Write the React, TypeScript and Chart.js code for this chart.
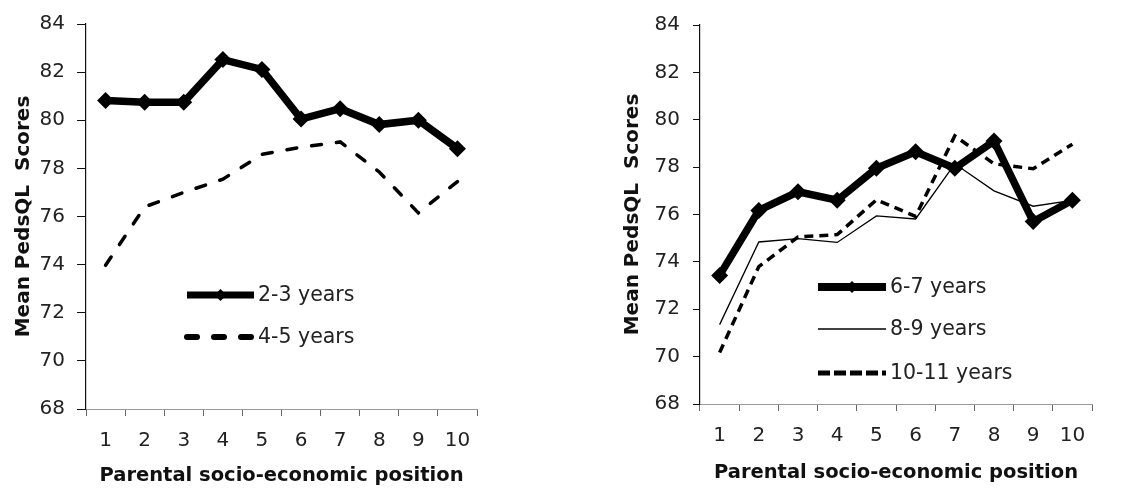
import React, { useEffect, useRef } from 'react';
import { Chart, registerables } from 'chart.js';

Chart.register(...registerables);

// ---------- data ----------
const positions = ['1', '2', '3', '4', '5', '6', '7', '8', '9', '10'];
const yMin = 68;
const yMax = 84;
const yStep = 2;

const years2to3 = [80.82, 80.75, 80.75, 82.52, 82.11, 80.05, 80.48, 79.82, 80.0, 78.82];
const years4to5 = [73.97, 76.4, 77.0, 77.55, 78.58, 78.88, 79.1, 77.85, 76.15, 77.45];

const years6to7 = [73.43, 76.17, 76.96, 76.6, 77.95, 78.65, 77.95, 79.1, 75.7, 76.6];
const years8to9 = [71.35, 74.84, 74.98, 74.82, 75.94, 75.81, 78.14, 77.0, 76.35, 76.6];
const years10to11 = [70.17, 73.8, 75.05, 75.15, 76.62, 75.92, 79.32, 78.14, 77.93, 78.97];

const xTitle = 'Parental socio-economic position';
const yTitle = 'Mean PedsQL  Scores';

// ---------- styling ----------
const FONT = '"DejaVu Sans", "Liberation Sans", Arial, sans-serif';
const TEXT = '#222';
const TICK_SIZE = 20;
const LEGEND_SIZE = 20.5;
const TITLE_SIZE = 19.5;

const inlineLegend = {
  id: 'inlineLegend',
  afterDatasetsDraw(chart: any, _args: any, opts: any) {
    const ctx = chart.ctx;
    chart.data.datasets.forEach((ds: any, i: number) => {
      const item = opts.items[i];
      const y = item.y;
      ctx.save();
      ctx.strokeStyle = ds.borderColor;
      ctx.lineWidth = item.width;
      ctx.lineCap = item.cap || 'butt';
      ctx.setLineDash(item.dash || []);
      ctx.beginPath();
      ctx.moveTo(opts.x0, y);
      ctx.lineTo(opts.x1, y);
      ctx.stroke();
      if (item.marker) {
        const cx = (opts.x0 + opts.x1) / 2;
        const r = item.marker;
        ctx.setLineDash([]);
        ctx.fillStyle = ds.borderColor;
        ctx.beginPath();
        ctx.moveTo(cx, y - r);
        ctx.lineTo(cx + r, y);
        ctx.lineTo(cx, y + r);
        ctx.lineTo(cx - r, y);
        ctx.closePath();
        ctx.fill();
      }
      ctx.fillStyle = TEXT;
      ctx.font = `${LEGEND_SIZE}px ${FONT}`;
      ctx.textAlign = 'left';
      ctx.textBaseline = 'middle';
      ctx.fillText(ds.label, opts.x1 + 4, y + 1);
      ctx.restore();
    });
  },
};

function makeOptions(cfg: {
  padTop: number;
  padRight: number;
  padLeft: number;
  yWidth: number;
  xHeight: number;
  yTickLen: number;
  yTickPad: number;
  yTitlePad: number;
  xTitlePad: number;
  legend: any;
}) {
  return {
    responsive: false,
    animation: false as const,
    devicePixelRatio: 1,
    layout: { padding: { top: cfg.padTop, right: cfg.padRight, left: cfg.padLeft, bottom: 0 } },
    plugins: {
      legend: { display: false },
      tooltip: { enabled: false },
      inlineLegend: cfg.legend,
    },
    scales: {
      x: {
        type: 'category' as const,
        offset: true,
        afterFit: (s: any) => {
          s.height = cfg.xHeight;
        },
        border: { display: true, color: '#9a9a9a', width: 1 },
        grid: {
          display: true,
          drawOnChartArea: false,
          drawTicks: true,
          offset: true,
          tickLength: 7,
          tickColor: '#666',
        },
        ticks: {
          color: TEXT,
          font: { family: FONT, size: TICK_SIZE },
          padding: 12.5,
          maxRotation: 0,
          autoSkip: false,
        },
        title: {
          display: true,
          text: xTitle,
          color: '#111',
          font: { family: FONT, size: TITLE_SIZE, weight: 'bold' as const },
          padding: { top: 0, bottom: cfg.xTitlePad },
        },
      },
      y: {
        min: yMin,
        max: yMax,
        afterFit: (s: any) => {
          s.width = cfg.yWidth;
        },
        border: { display: true, color: '#111', width: 1.2 },
        grid: {
          display: true,
          drawOnChartArea: false,
          drawTicks: true,
          tickLength: cfg.yTickLen,
          tickColor: '#111',
        },
        ticks: {
          stepSize: yStep,
          color: TEXT,
          font: { family: FONT, size: TICK_SIZE },
          padding: cfg.yTickPad,
        },
        title: {
          display: true,
          text: yTitle,
          color: '#111',
          font: { family: FONT, size: 20, weight: 'bold' as const },
          padding: { top: cfg.yTitlePad, bottom: 0 },
        },
      },
    },
  };
}

function LeftChart() {
  const ref = useRef<HTMLCanvasElement | null>(null);
  useEffect(() => {
    if (!ref.current) return;
    const chart = new Chart(ref.current, {
      type: 'line',
      data: {
        labels: positions,
        datasets: [
          {
            label: '2-3 years',
            data: years2to3,
            borderColor: '#000',
            backgroundColor: '#000',
            borderWidth: 7.5,
            borderJoinStyle: 'miter',
            pointStyle: 'rectRot',
            pointRadius: 8.5,
            pointBackgroundColor: '#000',
            pointBorderWidth: 0,
            tension: 0,
          },
          {
            label: '4-5 years',
            data: years4to5,
            borderColor: '#000',
            backgroundColor: '#000',
            borderWidth: 3.5,
            borderDash: [10, 15],
            borderCapStyle: 'round',
            pointRadius: 0,
            tension: 0,
          },
        ],
      },
      options: makeOptions({
        padTop: 17,
        padRight: 83,
        padLeft: 0,
        yWidth: 86,
        xHeight: 81,
        yTickLen: 9,
        yTickPad: 12,
        yTitlePad: 12,
        xTitlePad: 2.5,
        legend: {
          x0: 187,
          x1: 254,
          items: [
            { y: 295, width: 7, marker: 6 },
            { y: 337, width: 6, dash: [10, 17], cap: 'round' },
          ],
        },
      }) as any,
      plugins: [inlineLegend],
    });
    return () => chart.destroy();
  }, []);
  return (
    <canvas
      ref={ref}
      width={560}
      height={490}
      style={{ position: 'absolute', left: 0, top: 0 }}
    />
  );
}

function RightChart() {
  const ref = useRef<HTMLCanvasElement | null>(null);
  useEffect(() => {
    if (!ref.current) return;
    const chart = new Chart(ref.current, {
      type: 'line',
      data: {
        labels: positions,
        datasets: [
          {
            label: '6-7 years',
            data: years6to7,
            borderColor: '#000',
            backgroundColor: '#000',
            borderWidth: 7.5,
            borderJoinStyle: 'miter',
            pointStyle: 'rectRot',
            pointRadius: 8.5,
            pointBackgroundColor: '#000',
            pointBorderWidth: 0,
            tension: 0,
          },
          {
            label: '8-9 years',
            data: years8to9,
            borderColor: '#000',
            backgroundColor: '#000',
            borderWidth: 1.3,
            pointRadius: 0,
            tension: 0,
          },
          {
            label: '10-11 years',
            data: years10to11,
            borderColor: '#000',
            backgroundColor: '#000',
            borderWidth: 3.5,
            borderDash: [9, 6],
            pointRadius: 0,
            tension: 0,
          },
        ],
      },
      options: makeOptions({
        padTop: 19,
        padRight: 37,
        padLeft: 0,
        yWidth: 100,
        xHeight: 86,
        yTickLen: 7,
        yTickPad: 13,
        yTitlePad: 21,
        xTitlePad: 5.5,
        legend: {
          x0: 218,
          x1: 286,
          items: [
            { y: 287, width: 8, marker: 6 },
            { y: 329, width: 1.3 },
            { y: 373, width: 5, dash: [12, 4] },
          ],
        },
      }) as any,
      plugins: [inlineLegend],
    });
    return () => chart.destroy();
  }, []);
  return (
    <canvas
      ref={ref}
      width={529}
      height={490}
      style={{ position: 'absolute', left: 600, top: 0 }}
    />
  );
}

export default function App() {
  return (
    <div
      style={{
        position: 'fixed',
        left: 0,
        top: 0,
        width: 1129,
        height: 490,
        background: '#fff',
        overflow: 'hidden',
      }}
    >
      <LeftChart />
      <RightChart />
    </div>
  );
}
